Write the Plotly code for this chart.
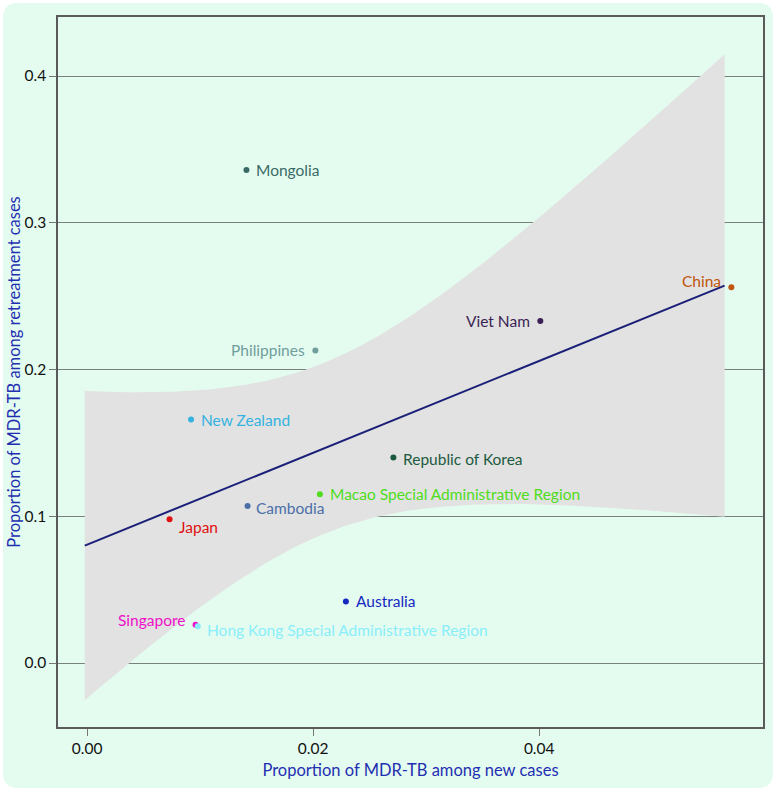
import numpy as np
import plotly.graph_objects as go

# ---- data ----
countries = ["Mongolia", "Philippines", "China", "Viet Nam", "New Zealand",
             "Republic of Korea", "Macao Special Administrative Region", "Cambodia",
             "Japan", "Australia", "Singapore", "Hong Kong Special Administrative Region"]
new_cases = [0.0141, 0.0202, 0.0570, 0.0401, 0.0092, 0.0271, 0.0206, 0.0142,
             0.0073, 0.0229, 0.0096, 0.0098]
retreat_cases = [0.336, 0.213, 0.256, 0.233, 0.166, 0.140, 0.115, 0.107,
                 0.098, 0.042, 0.026, 0.025]
colors = ["#3b6a66", "#6f9e9c", "#c0560e", "#3c1f55", "#35b2e0", "#1c5a40",
          "#4fdc1c", "#4a6fa8", "#e01010", "#1428c0", "#ee10c8", "#8aeefa"]
x_ticks = [0.00, 0.02, 0.04]
y_ticks = [0.0, 0.1, 0.2, 0.3, 0.4]
fit_range = [-0.0002, 0.0564]

# label placement (style): xanchor, xshift, yshift
label_pos = {
    "Mongolia": ("left", 8, 0), "Philippines": ("right", -8, 0),
    "China": ("right", -8, 6), "Viet Nam": ("right", -8, 0),
    "New Zealand": ("left", 8, -1), "Republic of Korea": ("left", 8, -1),
    "Macao Special Administrative Region": ("left", 8, 0),
    "Cambodia": ("left", 6, -2), "Japan": ("left", 7, -8),
    "Australia": ("left", 8, 0), "Singapore": ("right", -9, 5),
    "Hong Kong Special Administrative Region": ("left", 7, -4),
}

# ---- linear fit with 95% CI (as geom_smooth(method="lm")) ----
x = np.array(new_cases)
y = np.array(retreat_cases)
n = len(x)
b1, b0 = np.polyfit(x, y, 1)
res = y - (b0 + b1 * x)
s = np.sqrt(np.sum(res ** 2) / (n - 2))
t_crit = {10: 2.228138}[n - 2]
xbar = x.mean()
sxx = np.sum((x - xbar) ** 2)
gx = np.linspace(fit_range[0], fit_range[1], 120)
gy = b0 + b1 * gx
hw = t_crit * s * np.sqrt(1 / n + (gx - xbar) ** 2 / sxx)

fig = go.Figure()
fig.add_trace(go.Scatter(
    x=np.concatenate([gx, gx[::-1]]), y=np.concatenate([gy + hw, (gy - hw)[::-1]]),
    fill="toself", fillcolor="rgba(226,226,226,1)", line=dict(width=0),
    hoverinfo="skip", showlegend=False))
fig.add_trace(go.Scatter(x=gx, y=gy, mode="lines",
                         line=dict(color="#1a1f78", width=2), showlegend=False))
fig.add_trace(go.Scatter(x=new_cases, y=retreat_cases, mode="markers",
                         marker=dict(color=colors, size=6), showlegend=False))

for c, xv, yv, col in zip(countries, new_cases, retreat_cases, colors):
    anc, xs, ys = label_pos[c]
    fig.add_annotation(x=xv, y=yv, text=c, showarrow=False, xanchor=anc,
                       yanchor="middle", xshift=xs, yshift=ys,
                       font=dict(color=col, size=15.5, family="Lato"))

# rounded mint background (plot area is 705 x 710 px)
L, R, T, B = -0.078, 1.0142, 1.0197, -0.0859
rx, ry = 0.0213, 0.0211
path = (f"M {L+rx} {T} L {R-rx} {T} Q {R} {T} {R} {T-ry} L {R} {B+ry} "
        f"Q {R} {B} {R-rx} {B} L {L+rx} {B} Q {L} {B} {L} {B+ry} "
        f"L {L} {T-ry} Q {L} {T} {L+rx} {T} Z")
fig.add_shape(type="path", xref="paper", yref="paper", layer="below",
              path=path, fillcolor="#e4fcf0", line=dict(width=0))

axis_common = dict(showline=True, linecolor="#5a5a5a", linewidth=1.5, mirror=True,
                   ticks="outside", tickcolor="#777777", ticklen=7, tickwidth=1,
                   zeroline=False, automargin=False,
                   tickfont=dict(size=15.5, color="#111111", family="Lato"))
fig.update_xaxes(range=[-0.00257, 0.0598], tickvals=x_ticks,
                 ticktext=[f"{v:.2f}" for v in x_ticks], showgrid=False,
                 title=dict(text="Proportion of MDR-TB among new cases", standoff=8,
                            font=dict(size=16.5, color="#1f2fb0", family="Lato")),
                 **axis_common)
fig.update_yaxes(range=[-0.0436, 0.4402], tickvals=y_ticks,
                 ticktext=[f"{v:.1f}" for v in y_ticks], showgrid=True,
                 gridcolor="#7a807c", gridwidth=1.3,
                 title=dict(text="Proportion of MDR-TB among retreatment cases", standoff=0,
                            font=dict(size=16.5, color="#1f2fb0", family="Lato")),
                 **axis_common)
fig.update_layout(width=776, height=792, margin=dict(l=58, r=13, t=17, b=65),
                  paper_bgcolor="white", plot_bgcolor="#e4fcf0",
                  font=dict(family="Lato"))
fig.write_html("out.html", config={"displayModeBar": False},
               post_script="document.body.style.margin='0';document.body.style.overflow='hidden';")
